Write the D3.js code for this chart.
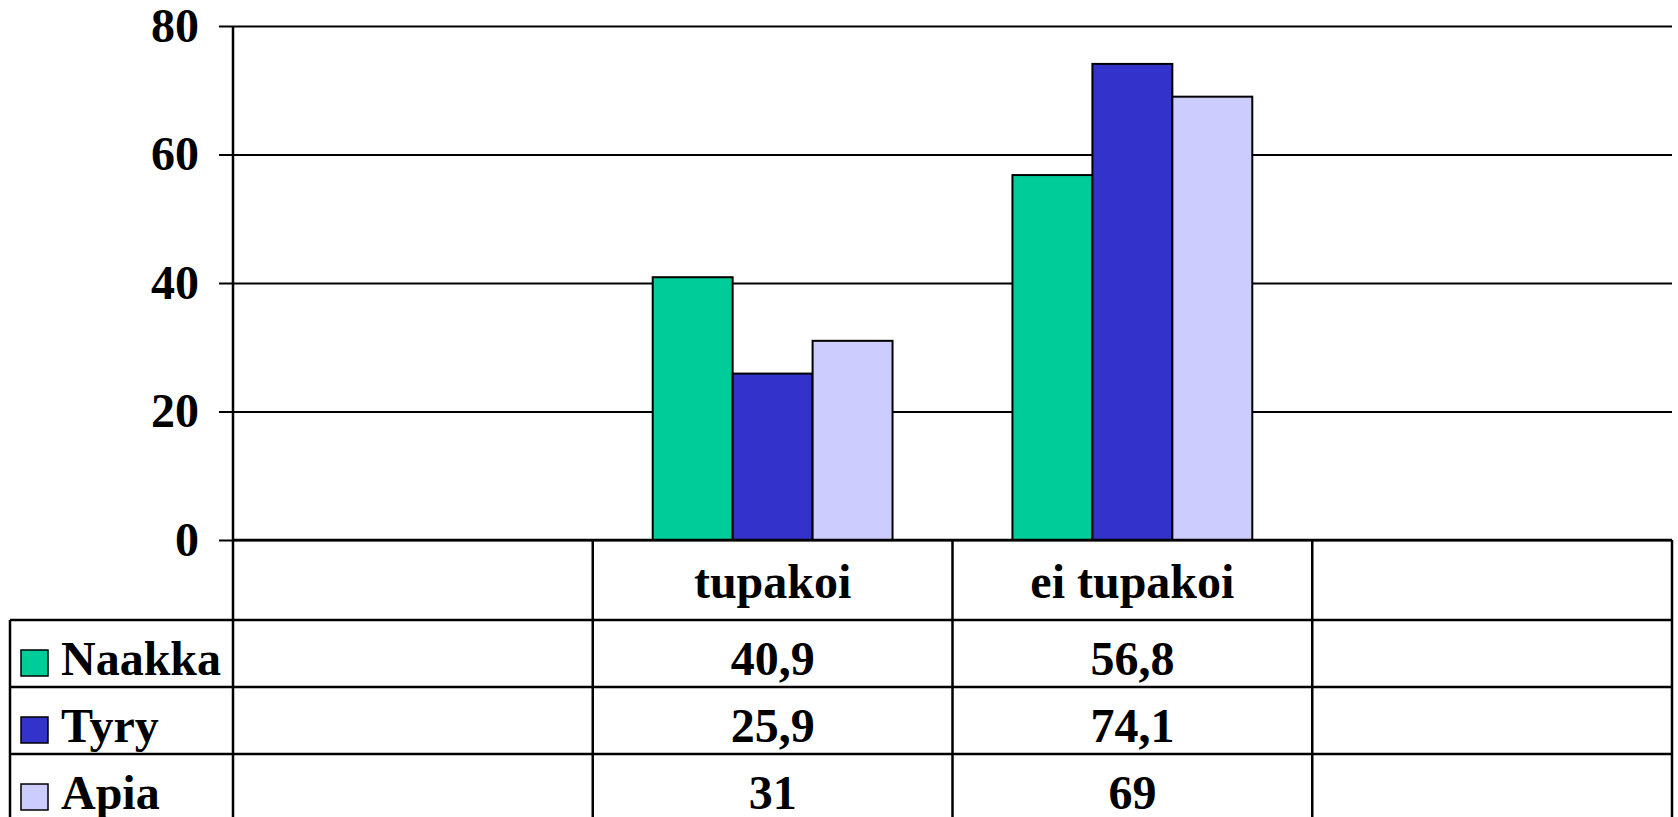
<!DOCTYPE html>
<html>
<head>
<meta charset="utf-8">
<script src="https://cdn.jsdelivr.net/npm/d3@7"></script>
<style>
  html, body { margin: 0; padding: 0; background: #fff; }
  svg { display: block; }
  text { font-family: "Liberation Serif", "Times New Roman", serif; font-weight: bold; fill: #000; }
</style>
</head>
<body>
<svg id="chart"></svg>
<script>
// data
const categories = ["", "tupakoi", "ei tupakoi", ""];
const seriesNames = ["Naakka", "Tyry", "Apia"];
const naakka = [null, 40.9, 56.8, null];
const tyry = [null, 25.9, 74.1, null];
const apia = [null, 31, 69, null];
const yTicks = [0, 20, 40, 60, 80];

const seriesValues = [naakka, tyry, apia];
const colors = ["#00cc99", "#3333cc", "#ccccff"];

const W = 1678, H = 817;
const plot = { left: 233, right: 1672, top: 26, bottom: 540 };
const table = { left: 10, headerBottom: 620, rowH: 67 };
const fontSize = 48;

const svg = d3.select("#chart").attr("width", W).attr("height", H);

const x = d3.scaleBand()
  .domain(d3.range(categories.length))
  .range([plot.left, plot.right]);
const xs = d3.scaleBand()
  .domain(d3.range(seriesNames.length))
  .range([0, x.bandwidth()])
  .paddingOuter(0.75);
const y = d3.scaleLinear().domain([0, 80]).range([plot.bottom, plot.top]);

// gridlines + tick labels
svg.append("g")
  .attr("transform", `translate(${plot.left - 14},0)`)
  .call(d3.axisLeft(y).tickValues(yTicks).tickSize(-(plot.right - plot.left + 14)).tickPadding(20))
  .call((g) => {
    g.select(".domain").remove();
    g.selectAll(".tick line").attr("stroke", "#000").attr("stroke-width", 2);
    g.selectAll(".tick text")
      .attr("font-size", fontSize)
      .attr("font-family", "Liberation Serif, serif")
      .attr("font-weight", "bold")
      .attr("fill", "#000");
  });

// bars
const groups = svg.append("g")
  .selectAll("g")
  .data(seriesNames)
  .join("g")
  .attr("fill", (d, i) => colors[i]);
groups.each(function (name, si) {
  d3.select(this)
    .selectAll("rect")
    .data(seriesValues[si].map((v, ci) => ({ v, ci })).filter((d) => d.v != null))
    .join("rect")
    .attr("x", (d) => x(d.ci) + xs(si))
    .attr("width", xs.bandwidth())
    .attr("y", (d) => y(d.v))
    .attr("height", (d) => y(0) - y(d.v))
    .attr("stroke", "#000")
    .attr("stroke-width", 2);
});

// data table
const rowsTop = table.headerBottom;
const tableBottom = rowsTop + table.rowH * seriesNames.length;
const tg = svg.append("g").attr("class", "table");
const lineAttr = (sel) => sel.attr("stroke", "#000").attr("stroke-width", 2.5);

// horizontal lines
tg.append("line").attr("x1", plot.left).attr("x2", plot.right).attr("y1", y(0)).attr("y2", y(0)).call(lineAttr);
d3.range(seriesNames.length + 1).forEach((i) => {
  const yy = rowsTop + i * table.rowH;
  tg.append("line").attr("x1", table.left).attr("x2", plot.right).attr("y1", yy).attr("y2", yy).call(lineAttr);
});
// vertical lines
tg.append("line").attr("x1", table.left).attr("x2", table.left).attr("y1", rowsTop).attr("y2", tableBottom).call(lineAttr);
d3.range(categories.length + 1).forEach((i) => {
  const xx = i < categories.length ? x(i) : plot.right;
  tg.append("line").attr("x1", xx).attr("x2", xx)
    .attr("y1", i === 0 ? plot.top : y(0)).attr("y2", tableBottom).call(lineAttr);
});

// header labels
tg.selectAll(".cat")
  .data(categories)
  .join("text")
  .attr("class", "cat")
  .attr("x", (d, i) => x(i) + x.bandwidth() / 2)
  .attr("y", rowsTop - 22)
  .attr("text-anchor", "middle")
  .attr("font-size", fontSize)
  .text((d) => d);

// rows
const fmt = (v) => String(v).replace(".", ",");
seriesNames.forEach((name, si) => {
  const rowBottom = rowsTop + (si + 1) * table.rowH;
  tg.append("rect")
    .attr("x", 21).attr("y", rowBottom - 37)
    .attr("width", 27).attr("height", 26)
    .attr("fill", colors[si]).attr("stroke", "#000").attr("stroke-width", 1.5);
  tg.append("text")
    .attr("x", 61).attr("y", rowBottom - 12)
    .attr("font-size", fontSize)
    .text(name);
  tg.selectAll(null)
    .data(seriesValues[si].map((v, ci) => ({ v, ci })).filter((d) => d.v != null))
    .join("text")
    .attr("x", (d) => x(d.ci) + x.bandwidth() / 2)
    .attr("y", rowBottom - 12)
    .attr("text-anchor", "middle")
    .attr("font-size", fontSize)
    .text((d) => fmt(d.v));
});
</script>
</body>
</html>
